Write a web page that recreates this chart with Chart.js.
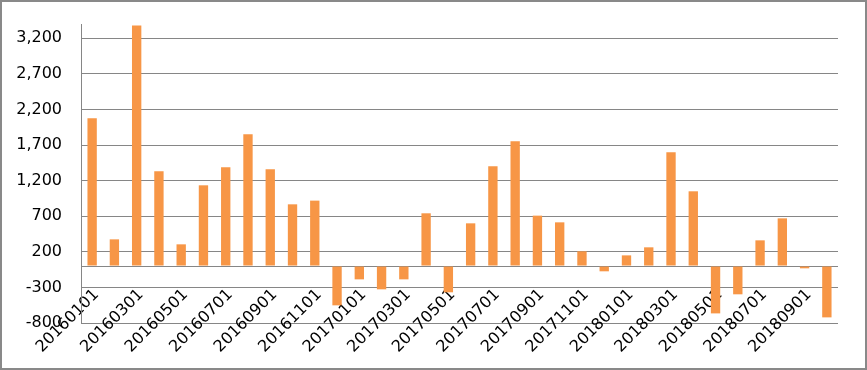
<!DOCTYPE html>
<html>
<head>
<meta charset="utf-8">
<script src="https://cdn.jsdelivr.net/npm/chart.js@4/dist/chart.umd.min.js"></script>
<style>
  html, body { margin: 0; padding: 0; background: #fff; }
  #frame {
    width: 867px; height: 370px;
    box-sizing: border-box;
    border: 2px solid #898989;
    background: #fff;
  }
  #chart { display: block; }
</style>
</head>
<body>
<div id="frame">
  <canvas id="chart" width="863" height="366"></canvas>
</div>
<script>
// monthly values, 2016-01 .. 2018-10
const months = [
  '20160101', '20160201', '20160301', '20160401', '20160501', '20160601',
  '20160701', '20160801', '20160901', '20161001', '20161101', '20161201',
  '20170101', '20170201', '20170301', '20170401', '20170501', '20170601',
  '20170701', '20170801', '20170901', '20171001', '20171101', '20171201',
  '20180101', '20180201', '20180301', '20180401', '20180501', '20180601',
  '20180701', '20180801', '20180901', '20181001'
];

const values = [
  2075, 375, 3380, 1331, 305, 1134,
  1387, 1850, 1359, 867, 919, -552,
  -187, -327, -187, 741, -369, 600,
  1401, 1752, 708, 614, 207, -74,
  150, 263, 1598, 1050, -665, -397,
  361, 670, -32, -721
];

// 0 is only there for the zero line, it gets no label
const yTicks = [-800, -300, 0, 200, 700, 1200, 1700, 2200, 2700, 3200];
const yMin = -800;
const yMax = 3400;

const GRID = '#868686';
const FONT = { family: 'DejaVu Sans', size: 16 };

new Chart(document.getElementById('chart'), {
  type: 'bar',
  data: {
    labels: months,
    datasets: [{
      data: values,
      backgroundColor: '#F79646',
      borderWidth: 0,
      barPercentage: 0.42,
      categoryPercentage: 1.0
    }]
  },
  options: {
    responsive: false,
    animation: false,
    layout: { padding: { left: 0, top: 22, right: 27, bottom: 0 } },
    plugins: {
      legend: { display: false },
      tooltip: { enabled: false }
    },
    scales: {
      x: {
        grid: { display: false, drawTicks: false },
        border: { display: false },
        afterFit: (scale) => { scale.height = 45; },
        ticks: {
          autoSkip: false,
          minRotation: 45,
          maxRotation: 45,
          // mirror keeps the labels unclipped so they can sit up at the zero line
          mirror: true,
          padding: 24,
          labelOffset: 18,
          color: '#000',
          font: FONT,
          callback: function (val, i) {
            return i % 2 === 0 ? this.getLabelForValue(val) : '';
          }
        }
      },
      y: {
        min: yMin,
        max: yMax,
        afterBuildTicks: (axis) => {
          axis.ticks = yTicks.map(v => ({ value: v }));
        },
        afterFit: (scale) => { scale.width = 79; },
        grid: {
          color: GRID,
          lineWidth: 1,
          drawTicks: true,
          tickLength: 19,
          tickColor: 'rgba(0,0,0,0)'
        },
        border: { display: true, color: GRID, width: 1 },
        ticks: {
          padding: 0,
          color: '#000',
          font: FONT,
          callback: v => (v === 0 ? '' : v.toLocaleString('en-US'))
        }
      }
    }
  }
});
</script>
</body>
</html>
